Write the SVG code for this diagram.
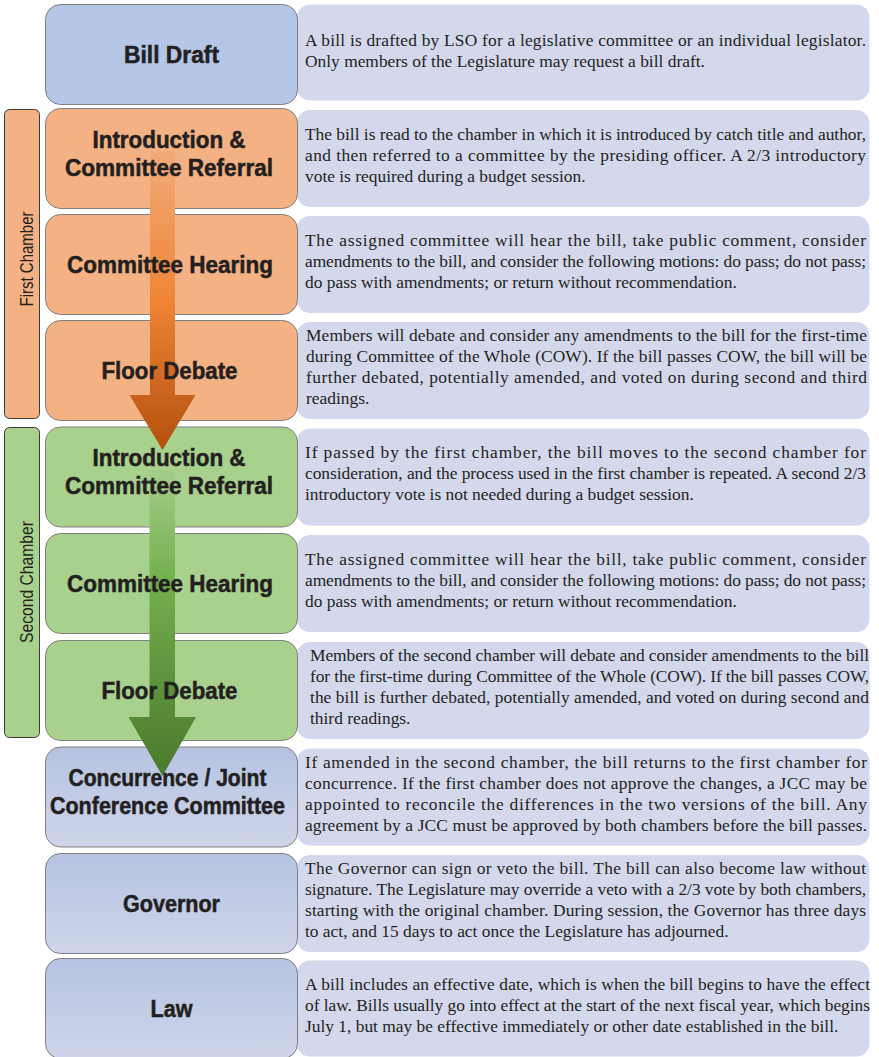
<svg xmlns="http://www.w3.org/2000/svg" width="879" height="1057" viewBox="0 0 879 1057">
<defs>
<style>
.node{stroke:#7f7f7f;stroke-width:1}
.blue{fill:#b4c7e7}
.orange{fill:#f4b183}
.green{fill:#a9d18e}
.lav{fill:url(#gBlue)}
.desc{fill:#d3d8ec}
.title{font-family:"Liberation Sans",Arial,sans-serif;font-weight:bold;font-size:23px;fill:#231f20;stroke:#231f20;stroke-width:0.5;text-anchor:middle}
.d{font-family:"Liberation Serif","Times New Roman",serif;font-size:17.4px;fill:#231f20}
.side{stroke:#3a3a3a;stroke-width:1}
.sidet{font-family:"Liberation Sans",Arial,sans-serif;font-size:19px;fill:#231f20;text-anchor:middle}
</style>
<linearGradient id="gBlue" x1="0" y1="0" x2="0" y2="1">
<stop offset="0" stop-color="#b6c3e1"/>
<stop offset="1" stop-color="#ced5ea"/>
</linearGradient>
<linearGradient id="gOrange" gradientUnits="userSpaceOnUse" x1="0" y1="150" x2="0" y2="450">
<stop offset="0" stop-color="#f2ab7a"/>
<stop offset="0.5" stop-color="#ee8536"/>
<stop offset="1" stop-color="#b4500f"/>
</linearGradient>
<linearGradient id="gGreen" gradientUnits="userSpaceOnUse" x1="0" y1="470" x2="0" y2="776">
<stop offset="0" stop-color="#a4ce89"/>
<stop offset="0.35" stop-color="#74b04e"/>
<stop offset="1" stop-color="#4a792c"/>
</linearGradient>
</defs>
<rect width="879" height="1057" fill="#ffffff"/>

<g id="first-chamber">
<rect class="side orange" x="4.5" y="109.5" width="35" height="309" rx="5"/>
<text class="sidet" transform="translate(33,259) rotate(-90)" textLength="95" lengthAdjust="spacingAndGlyphs">First Chamber</text>
</g>
<g id="second-chamber">
<rect class="side green" x="4.5" y="427.5" width="35" height="310" rx="5"/>
<text class="sidet" transform="translate(33,582) rotate(-90)" textLength="122" lengthAdjust="spacingAndGlyphs">Second Chamber</text>
</g>

<g id="bill-draft">
<rect class="desc" x="297" y="4.5" width="572.5" height="96" rx="13"/>
<rect class="node blue" x="45.5" y="4.5" width="252" height="100" rx="15"/>
<text class="d"><tspan x="305" y="46" textLength="561" lengthAdjust="spacing">A bill is drafted by LSO for a legislative committee or an individual legislator.</tspan><tspan x="305" y="67">Only members of the Legislature may request a bill draft.</tspan></text>
</g>

<g id="introduction-1">
<rect class="desc" x="297" y="110" width="572.5" height="97" rx="13"/>
<rect class="node orange" x="45.5" y="108.5" width="252" height="100" rx="15"/>
<text class="d"><tspan x="305" y="139.5" textLength="561" lengthAdjust="spacing">The bill is read to the chamber in which it is introduced by catch title and author,</tspan><tspan x="305" y="160.5" textLength="561" lengthAdjust="spacing">and then referred to a committee by the presiding officer. A 2/3 introductory</tspan><tspan x="305" y="181.5">vote is required during a budget session.</tspan></text>
</g>

<g id="committee-hearing-1">
<rect class="desc" x="297" y="216" width="572.5" height="97" rx="13"/>
<rect class="node orange" x="45.5" y="214.5" width="252" height="100" rx="15"/>
<text class="d"><tspan x="305" y="245.5" textLength="561" lengthAdjust="spacing">The assigned committee will hear the bill, take public comment, consider</tspan><tspan x="305" y="266.5" textLength="561" lengthAdjust="spacing">amendments to the bill, and consider the following motions: do pass; do not pass;</tspan><tspan x="305" y="287.5">do pass with amendments; or return without recommendation.</tspan></text>
</g>

<g id="floor-debate-1">
<rect class="desc" x="297" y="322" width="572.5" height="97" rx="13"/>
<rect class="node orange" x="45.5" y="320.5" width="252" height="100" rx="15"/>
<text class="d"><tspan x="306" y="341" textLength="561" lengthAdjust="spacing">Members will debate and consider any amendments to the bill for the first-time</tspan><tspan x="306" y="362" textLength="561" lengthAdjust="spacing">during Committee of the Whole (COW). If the bill passes COW, the bill will be</tspan><tspan x="306" y="383" textLength="561" lengthAdjust="spacing">further debated, potentially amended, and voted on during second and third</tspan><tspan x="306" y="404">readings.</tspan></text>
</g>

<g id="introduction-2">
<rect class="desc" x="297" y="428.5" width="572.5" height="97" rx="13"/>
<rect class="node green" x="45.5" y="427" width="252" height="100" rx="15"/>
<text class="d"><tspan x="305" y="458" textLength="561" lengthAdjust="spacing">If passed by the first chamber, the bill moves to the second chamber for</tspan><tspan x="305" y="479" textLength="561" lengthAdjust="spacing">consideration, and the process used in the first chamber is repeated. A second 2/3</tspan><tspan x="305" y="500">introductory vote is not needed during a budget session.</tspan></text>
</g>

<g id="committee-hearing-2">
<rect class="desc" x="297" y="535" width="572.5" height="97" rx="13"/>
<rect class="node green" x="45.5" y="533.5" width="252" height="100" rx="15"/>
<text class="d"><tspan x="305" y="564.5" textLength="561" lengthAdjust="spacing">The assigned committee will hear the bill, take public comment, consider</tspan><tspan x="305" y="585.5" textLength="561" lengthAdjust="spacing">amendments to the bill, and consider the following motions: do pass; do not pass;</tspan><tspan x="305" y="606.5">do pass with amendments; or return without recommendation.</tspan></text>
</g>

<g id="floor-debate-2">
<rect class="desc" x="297" y="642" width="572.5" height="97" rx="13"/>
<rect class="node green" x="45.5" y="640.5" width="252" height="100" rx="15"/>
<text class="d"><tspan x="310" y="661" textLength="559" lengthAdjust="spacing">Members of the second chamber will debate and consider amendments to the bill</tspan><tspan x="310" y="682" textLength="559" lengthAdjust="spacing">for the first-time during Committee of the Whole (COW). If the bill passes COW,</tspan><tspan x="310" y="703" textLength="559" lengthAdjust="spacing">the bill is further debated, potentially amended, and voted on during second and</tspan><tspan x="310" y="724">third readings.</tspan></text>
</g>

<g id="concurrence">
<rect class="desc" x="297" y="748.5" width="572.5" height="97" rx="13"/>
<rect class="node lav" x="45.5" y="747" width="252" height="100" rx="15"/>
<text class="d"><tspan x="305" y="767.5" textLength="562" lengthAdjust="spacing">If amended in the second chamber, the bill returns to the first chamber for</tspan><tspan x="305" y="788.5" textLength="562" lengthAdjust="spacing">concurrence. If the first chamber does not approve the changes, a JCC may be</tspan><tspan x="305" y="809.5" textLength="562" lengthAdjust="spacing">appointed to reconcile the differences in the two versions of the bill. Any</tspan><tspan x="305" y="830.5" textLength="562" lengthAdjust="spacing">agreement by a JCC must be approved by both chambers before the bill passes.</tspan></text>
</g>

<g id="governor">
<rect class="desc" x="297" y="855" width="572.5" height="97" rx="13"/>
<rect class="node lav" x="45.5" y="853.5" width="252" height="100" rx="15"/>
<text class="d"><tspan x="305" y="874" textLength="561" lengthAdjust="spacing">The Governor can sign or veto the bill. The bill can also become law without</tspan><tspan x="305" y="895" textLength="561" lengthAdjust="spacing">signature. The Legislature may override a veto with a 2/3 vote by both chambers,</tspan><tspan x="305" y="916" textLength="561" lengthAdjust="spacing">starting with the original chamber. During session, the Governor has three days</tspan><tspan x="305" y="937">to act, and 15 days to act once the Legislature has adjourned.</tspan></text>
</g>

<g id="law">
<rect class="desc" x="297" y="960.5" width="572.5" height="96" rx="13"/>
<rect class="node lav" x="45.5" y="958.5" width="252" height="100" rx="15"/>
<text class="d"><tspan x="305" y="989.5" textLength="565" lengthAdjust="spacing">A bill includes an effective date, which is when the bill begins to have the effect</tspan><tspan x="305" y="1010.5" textLength="565" lengthAdjust="spacing">of law. Bills usually go into effect at the start of the next fiscal year, which begins</tspan><tspan x="305" y="1031.5">July 1, but may be effective immediately or other date established in the bill.</tspan></text>
</g>

<g id="connectors">
<path d="M150,151 L175,151 L175,395 L195.5,395 L162.5,450 L129.5,395 L150,395 Z" fill="url(#gOrange)"/>
<path d="M149.5,470 L175,470 L175,717 L196,717 L162.5,776 L128.5,717 L149.5,717 Z" fill="url(#gGreen)"/>
</g>

<g id="node-titles">
<text class="title" x="171.5" y="62.5" textLength="95" lengthAdjust="spacingAndGlyphs">Bill Draft</text>
<text class="title" x="169" y="147.5" textLength="153" lengthAdjust="spacingAndGlyphs">Introduction &amp;</text>
<text class="title" x="169" y="175.5" textLength="208" lengthAdjust="spacingAndGlyphs">Committee Referral</text>
<text class="title" x="170" y="272.5" textLength="206" lengthAdjust="spacingAndGlyphs">Committee Hearing</text>
<text class="title" x="169.5" y="378.5" textLength="136" lengthAdjust="spacingAndGlyphs">Floor Debate</text>
<text class="title" x="169" y="466" textLength="153" lengthAdjust="spacingAndGlyphs">Introduction &amp;</text>
<text class="title" x="169" y="494" textLength="208" lengthAdjust="spacingAndGlyphs">Committee Referral</text>
<text class="title" x="170" y="591.5" textLength="206" lengthAdjust="spacingAndGlyphs">Committee Hearing</text>
<text class="title" x="169.5" y="698.5" textLength="136" lengthAdjust="spacingAndGlyphs">Floor Debate</text>
<text class="title" x="167.5" y="786" textLength="198" lengthAdjust="spacingAndGlyphs">Concurrence / Joint</text>
<text class="title" x="167.5" y="814" textLength="235" lengthAdjust="spacingAndGlyphs">Conference Committee</text>
<text class="title" x="171.5" y="911.5" textLength="97" lengthAdjust="spacingAndGlyphs">Governor</text>
<text class="title" x="171.5" y="1016.5" textLength="42" lengthAdjust="spacingAndGlyphs">Law</text>
</g>
</svg>
